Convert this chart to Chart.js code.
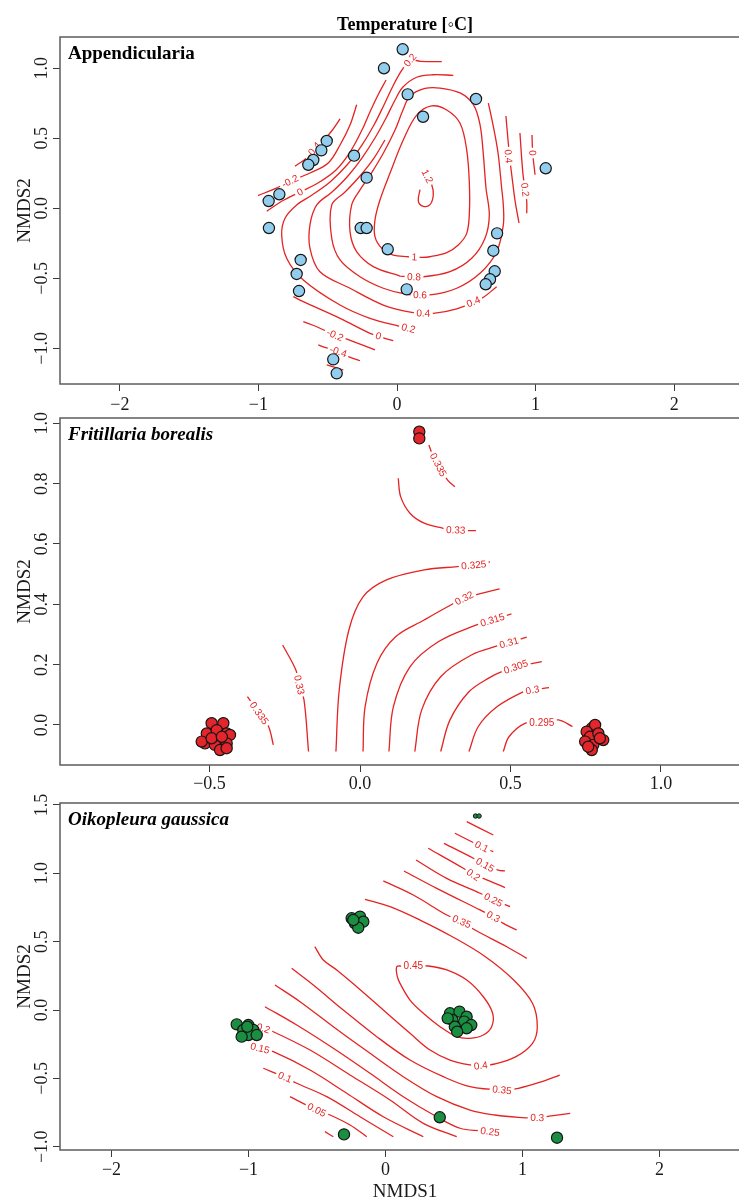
<!DOCTYPE html>
<html>
<head>
<meta charset="utf-8">
<script src="https://cdn.jsdelivr.net/npm/chart.js@4.4.1/dist/chart.umd.min.js"></script>
<style>
  html, body { margin: 0; padding: 0; background: #fff; overflow: hidden; width: 739px; height: 1202px; }
  canvas { position: absolute; left: 0; }
</style>
</head>
<body>
<canvas id="c1" width="760" height="418" style="top:0px;width:760px;height:418px"></canvas>
<canvas id="c2" width="760" height="400" style="top:400px;width:760px;height:400px"></canvas>
<canvas id="c3" width="760" height="412" style="top:790px;width:760px;height:412px"></canvas>
<script>
// ---------------- Appendicularia ----------------
const appX = [0.041,-0.094,0.077,0.570,0.188,-0.507,-0.546,-0.604,-0.640,-0.310,-0.219,1.073,-0.849,-0.926,-0.924,-0.262,-0.219,-0.067,0.722,0.695,-0.695,-0.724,-0.707,0.070,0.705,0.671,0.640,-0.460,-0.435];
const appY = [1.136,1.000,0.814,0.781,0.654,0.481,0.414,0.345,0.311,0.376,0.219,0.286,0.100,0.052,-0.141,-0.141,-0.141,-0.293,-0.179,-0.303,-0.369,-0.469,-0.591,-0.579,-0.450,-0.507,-0.543,-1.079,-1.179];
const appXTicks = [-2, -1, 0, 1, 2];
const appYTicks = [-1, -0.5, 0, 0.5, 1];
// contour: [level text, path, label spots]
const appContours = [
  ['1.2', [[0.205,0.26],[0.250,0.170],[0.262,0.097],[0.238,0.026],[0.190,0.014],[0.154,0.050],[0.166,0.134]], [[0.218,0.228]]],
  ['1', [[0.082,-0.346],[-0.027,-0.334],[-0.110,-0.286],[-0.159,-0.203],[-0.159,-0.084],[-0.123,0.059],[-0.051,0.250],[0.045,0.488],[0.142,0.666],[0.250,0.731],[0.359,0.702],[0.455,0.607],[0.503,0.416],[0.522,0.179],[0.522,-0.036],[0.503,-0.179],[0.442,-0.262],[0.359,-0.317],[0.238,-0.346],[0.178,-0.350],[0.082,-0.346]], [[0.125,-0.348]]],
  ['0.8', [[0.022,-0.484],[-0.171,-0.417],[-0.291,-0.310],[-0.339,-0.167],[-0.327,0.024],[-0.267,0.131],[-0.180,0.259],[-0.094,0.402],[-0.014,0.559],[0.043,0.702],[0.094,0.802],[0.202,0.856],[0.310,0.859],[0.455,0.824],[0.551,0.740],[0.599,0.597],[0.623,0.383],[0.642,0.145],[0.666,-0.048],[0.635,-0.214],[0.539,-0.357],[0.382,-0.453],[0.190,-0.489],[0.022,-0.484]], [[0.123,-0.491]]],
  ['0.6', [[-0.087,0.488],[-0.166,0.359],[-0.267,0.231],[-0.375,0.116],[-0.471,0.024],[-0.471,-0.214],[-0.411,-0.369],[-0.267,-0.489],[-0.099,-0.571],[0.070,-0.614],[0.238,-0.619],[0.431,-0.571],[0.599,-0.464],[0.719,-0.310],[0.767,-0.119],[0.767,0.024],[0.755,0.145],[0.729,0.395],[0.693,0.595],[0.659,0.752]], [[0.166,-0.619]]],
  ['0.4', [[0.406,0.950],[0.262,0.954],[0.142,0.936],[0.043,0.866],[-0.014,0.774],[-0.079,0.645],[-0.159,0.502],[-0.253,0.359],[-0.354,0.231],[-0.469,0.116],[-0.579,0.024],[-0.628,-0.119],[-0.628,-0.286],[-0.556,-0.453],[-0.339,-0.571],[-0.099,-0.691],[0.106,-0.743],[0.262,-0.750],[0.431,-0.719],[0.611,-0.643],[0.719,-0.560]], [[0.190,-0.750],[0.551,-0.668]]],
  ['0.4', [[0.786,0.659],[0.801,0.488],[0.815,0.345],[0.837,0.167],[0.851,0.059],[0.880,-0.105]], [[0.803,0.371]]],
  ['0.2', [[0.034,-0.846],[-0.195,-0.786],[-0.411,-0.691],[-0.676,-0.512],[-0.796,-0.357],[-0.832,-0.191],[-0.808,-0.071],[-0.724,0.024],[-0.613,0.095],[-0.483,0.188],[-0.361,0.309],[-0.253,0.452],[-0.166,0.595],[-0.094,0.738],[-0.029,0.874],[0.036,0.988],[0.094,1.058],[0.170,1.050],[0.323,1.048]], [[0.082,-0.857],[0.094,1.058]]],
  ['0.2', [[0.887,0.538],[0.907,0.264],[0.924,0.133],[0.936,0.050],[0.936,-0.036]], [[0.924,0.133]]],
  ['0', [[0.974,0.524],[0.979,0.395],[0.996,0.240]], [[0.979,0.395]]],
  ['0', [[-0.940,-0.021],[-0.832,0.050],[-0.700,0.116],[-0.570,0.181],[-0.440,0.274],[-0.339,0.402],[-0.253,0.559],[-0.195,0.688],[-0.137,0.809],[-0.079,0.916]], [[-0.700,0.116]]],
  ['-0.2', [[-1.003,0.091],[-0.880,0.140],[-0.772,0.193],[-0.628,0.252],[-0.496,0.324],[-0.411,0.452],[-0.339,0.595],[-0.291,0.740]], [[-0.772,0.193]]],
  ['-0.4', [[-0.736,0.300],[-0.652,0.359],[-0.604,0.416],[-0.541,0.474],[-0.471,0.552],[-0.411,0.638]], [[-0.604,0.416]]],
  ['0', [[-0.748,-0.631],[-0.676,-0.667],[-0.411,-0.786],[-0.195,-0.893],[-0.135,-0.912],[-0.087,-0.929],[-0.027,-0.946]], [[-0.135,-0.912]]],
  ['-0.2', [[-0.676,-0.810],[-0.579,-0.846],[-0.447,-0.906],[-0.375,-0.929],[-0.159,-1.012]], [[-0.447,-0.906]]],
  ['-0.4', [[-0.568,-0.976],[-0.532,-0.989],[-0.424,-1.024],[-0.351,-1.060],[-0.267,-1.089]], [[-0.424,-1.024]]],
  ['', [[-0.507,-1.119],[-0.387,-1.155]], []]
];

// ---------------- Fritillaria borealis ----------------
const friX = [-0.515,-0.493,-0.454,-0.509,-0.476,-0.443,-0.432,-0.482,-0.443,-0.465,-0.443,-0.526,-0.493,-0.459,
              0.770,0.781,0.753,0.764,0.792,0.808,0.748,0.775,0.770,0.758,0.797, 0.197,0.197];
const friY = [-0.061,0.006,0.006,-0.028,-0.017,-0.028,-0.033,-0.066,-0.061,-0.083,-0.077,-0.055,-0.044,-0.039,
              -0.011,0.000,-0.022,-0.039,-0.028,-0.050,-0.055,-0.066,-0.083,-0.072,-0.044, 0.972,0.950];
const friXTicks = [-0.5, 0, 0.5, 1];
const friYTicks = [0, 0.2, 0.4, 0.6, 0.8, 1];
const friContours = [
  ['0.335', [[0.229,0.928],[0.237,0.906],[0.260,0.862],[0.291,0.812],[0.315,0.790]], [[0.260,0.862]]],
  ['0.33', [[0.127,0.818],[0.135,0.757],[0.166,0.702],[0.213,0.669],[0.276,0.652],[0.312,0.646],[0.385,0.644]], [[0.318,0.646]]],
  ['0.335', [[-0.374,0.094],[-0.338,0.044],[-0.304,-0.005],[-0.288,-0.066]], [[-0.335,0.039]]],
  ['0.33', [[-0.257,0.265],[-0.213,0.182],[-0.202,0.133],[-0.186,0.083],[-0.171,-0.088]], [[-0.202,0.133]]],
  ['0.325', [[-0.080,-0.088],[-0.069,0.116],[-0.037,0.315],[0.010,0.425],[0.088,0.481],[0.213,0.514],[0.323,0.525],[0.378,0.530],[0.432,0.541]], [[0.378,0.530]]],
  ['0.32', [[0.010,-0.088],[0.017,0.061],[0.056,0.204],[0.119,0.293],[0.213,0.348],[0.291,0.392],[0.346,0.420],[0.464,0.451]], [[0.346,0.420]]],
  ['0.315', [[0.096,-0.088],[0.111,0.061],[0.166,0.193],[0.260,0.276],[0.385,0.331],[0.440,0.348],[0.503,0.368]], [[0.440,0.348]]],
  ['0.31', [[0.182,-0.088],[0.205,0.050],[0.268,0.160],[0.370,0.232],[0.456,0.262],[0.495,0.273],[0.554,0.291]], [[0.495,0.273]]],
  ['0.305', [[0.268,-0.088],[0.299,0.017],[0.362,0.110],[0.432,0.158],[0.471,0.177],[0.518,0.193],[0.604,0.210]], [[0.518,0.193]]],
  ['0.3', [[0.362,-0.088],[0.393,-0.005],[0.456,0.061],[0.542,0.110],[0.573,0.116],[0.628,0.124]], [[0.573,0.116]]],
  ['0.295', [[0.476,-0.088],[0.495,-0.039],[0.550,0.006],[0.604,0.006],[0.659,0.017],[0.706,-0.005]], [[0.604,0.006]]]
];

// ---------------- Oikopleura gaussica ----------------
const oikX = [-0.247,-0.186,-0.223,-0.162,-0.199,-0.235,
              -1.086,-1.001,-0.965,-1.038,-1.001,-0.940,-1.050,-1.009,
              0.471,0.540,0.592,0.488,0.574,0.626,0.506,0.592,0.523,0.454,
              0.396,-0.303,1.252];
const oikY = [0.671,0.683,0.634,0.646,0.602,0.658,
              -0.105,-0.110,-0.146,-0.146,-0.183,-0.183,-0.195,-0.122,
              -0.024,-0.012,-0.049,-0.073,-0.085,-0.110,-0.122,-0.134,-0.159,-0.061,
              -0.785,-0.910,-0.934];
const oikTinyX = [0.657, 0.683];
const oikTinyY = [1.419, 1.419];
const oikXTicks = [-2, -1, 0, 1, 2];
const oikYTicks = [-1, -0.5, 0, 0.5, 1, 1.5];
const oikContours = [
  ['', [[0.593,1.378],[0.787,1.280]], []],
  ['0.1', [[0.507,1.293],[0.629,1.231],[0.702,1.195],[0.787,1.158]], [[0.702,1.195]]],
  ['0.15', [[0.427,1.219],[0.641,1.110],[0.726,1.061],[0.823,1.024],[0.872,1.017]], [[0.726,1.061]]],
  ['0.2', [[0.312,1.183],[0.568,1.037],[0.641,0.988],[0.714,0.963],[0.872,0.895]], [[0.641,0.988]]],
  ['0.25', [[0.223,1.097],[0.447,0.963],[0.690,0.854],[0.787,0.805],[0.909,0.756]], [[0.787,0.805]]],
  ['0.3', [[0.135,1.017],[0.374,0.890],[0.690,0.732],[0.787,0.683],[0.860,0.634],[0.958,0.585]], [[0.787,0.683]]],
  ['0.35', [[-0.016,0.944],[0.203,0.841],[0.447,0.695],[0.556,0.646],[0.653,0.585],[0.885,0.463],[1.031,0.378]], [[0.556,0.646]]],
  ['0.4', [[-0.150,0.810],[0.033,0.756],[0.252,0.658],[0.488,0.536],[0.729,0.390],[0.936,0.219],[1.073,0.049],[1.108,-0.122],[1.073,-0.244],[0.953,-0.341],[0.798,-0.395],[0.695,-0.407],[0.617,-0.402],[0.471,-0.366],[0.325,-0.293],[0.179,-0.170],[-0.016,0.0],[-0.210,0.170],[-0.356,0.293],[-0.454,0.366],[-0.516,0.463]], [[0.695,-0.407]]],
  ['0.45', [[0.120,0.322],[0.082,0.317],[0.085,0.250],[0.106,0.195],[0.179,0.073],[0.276,-0.024],[0.398,-0.122],[0.520,-0.195],[0.617,-0.207],[0.714,-0.183],[0.775,-0.122],[0.782,-0.024],[0.714,0.097],[0.593,0.219],[0.447,0.293],[0.312,0.322],[0.203,0.322],[0.120,0.322]], [[0.203,0.322]]],
  ['0.35', [[-0.685,0.305],[-0.527,0.183],[-0.308,0.0],[-0.064,-0.195],[0.179,-0.366],[0.422,-0.488],[0.617,-0.561],[0.850,-0.585],[0.970,-0.573],[1.142,-0.524],[1.272,-0.476]], [[0.850,-0.585]]],
  ['0.3', [[-0.807,0.183],[-0.624,0.061],[-0.381,-0.122],[-0.113,-0.317],[0.130,-0.488],[0.374,-0.634],[0.617,-0.732],[0.799,-0.768],[0.970,-0.785],[1.107,-0.788],[1.210,-0.775],[1.348,-0.756]], [[1.107,-0.788]]],
  ['0.25', [[-0.880,0.024],[-0.648,-0.110],[-0.381,-0.280],[-0.113,-0.463],[0.130,-0.634],[0.374,-0.781],[0.544,-0.865],[0.700,-0.885]], [[0.763,-0.890]]],
  ['0.2', [[-0.892,-0.134],[-0.819,-0.159],[-0.551,-0.293],[-0.259,-0.475],[0.033,-0.658],[0.276,-0.829],[0.520,-0.927]], [[-0.892,-0.134]]],
  ['0.15', [[-0.916,-0.280],[-0.819,-0.305],[-0.551,-0.439],[-0.283,-0.609],[-0.016,-0.781],[0.276,-0.927]], [[-0.916,-0.280]]],
  ['0.1', [[-0.892,-0.426],[-0.734,-0.492],[-0.648,-0.536],[-0.429,-0.634],[-0.186,-0.781],[0.057,-0.927]], [[-0.734,-0.492]]],
  ['0.05', [[-0.697,-0.634],[-0.502,-0.732],[-0.405,-0.768],[-0.259,-0.841],[-0.137,-0.927]], [[-0.502,-0.732]]],
  ['', [[-0.442,-0.890],[-0.381,-0.927]], []]
];

const RED = '#e42322';
const SERIF = '"Liberation Serif", "Times New Roman", serif';

function fmt(v, dec) {
  const s = Math.abs(v).toFixed(dec);
  return (v < -1e-9 ? '\u2212' : '') + s;
}

// contour labels are written into a white gap of the line, before the points are drawn
const contourLabels = {
  id: 'contourLabels',
  beforeDatasetDraw(chart, args, opts) {
    if (args.index !== 0) return;
    const { ctx } = chart;
    const sx = chart.scales.x, sy = chart.scales.y;
    ctx.save();
    ctx.beginPath();
    ctx.rect(chart.chartArea.left, chart.chartArea.top, chart.chartArea.width, chart.chartArea.height);
    ctx.clip();
    ctx.font = '10px "Liberation Sans", Arial, sans-serif';
    ctx.textAlign = 'center';
    ctx.textBaseline = 'middle';
    opts.lines.forEach(([txt, path, spots]) => {
      spots.forEach(([mx, my]) => {
        const px = sx.getPixelForValue(mx), py = sy.getPixelForValue(my);
        let best = Infinity, ang = 0;
        for (let i = 0; i < path.length - 1; i++) {
          const ax = sx.getPixelForValue(path[i][0]), ay = sy.getPixelForValue(path[i][1]);
          const bx = sx.getPixelForValue(path[i + 1][0]), by = sy.getPixelForValue(path[i + 1][1]);
          const dx = bx - ax, dy = by - ay;
          const t = Math.max(0, Math.min(1, ((px - ax) * dx + (py - ay) * dy) / (dx * dx + dy * dy || 1)));
          const d = Math.hypot(ax + t * dx - px, ay + t * dy - py);
          if (d < best) { best = d; ang = Math.atan2(dy, dx); }
        }
        if (ang > Math.PI / 2) ang -= Math.PI;
        if (ang < -Math.PI / 2) ang += Math.PI;
        const w = ctx.measureText(txt).width;
        ctx.save();
        ctx.translate(px, py);
        ctx.rotate(ang);
        ctx.fillStyle = '#fff';
        ctx.fillRect(-w / 2 - 2.5, -4.5, w + 5, 9);
        ctx.fillStyle = RED;
        ctx.fillText(txt, 0, 0.5);
        ctx.restore();
      });
    });
    ctx.restore();
  }
};

const panelFrame = {
  id: 'panelFrame',
  afterDraw(chart, args, o) {
    const { ctx, chartArea: a } = chart;
    ctx.save();
    ctx.strokeStyle = '#5c5c5c';
    ctx.lineWidth = 1.5;
    ctx.strokeRect(a.left, a.top, a.right - a.left, a.bottom - a.top);
    ctx.fillStyle = '#000';
    ctx.textAlign = 'left';
    ctx.textBaseline = 'alphabetic';
    ctx.font = o.font;
    ctx.fillText(o.name, a.left + 8, a.top + 22);
    if (o.title) {
      ctx.font = 'bold 18px ' + SERIF;
      ctx.textAlign = 'center';
      ctx.fillText(o.title, (a.left + a.right) / 2, a.top - 7);
    }
    ctx.restore();
  }
};

function makePanel(id, o) {
  const datasets = [{
    data: o.xs.map((x, i) => ({ x, y: o.ys[i] })),
    pointRadius: 5.6,
    pointBackgroundColor: o.fill,
    pointBorderColor: '#151515',
    pointBorderWidth: 1.2,
    showLine: false
  }];
  if (o.tinyX) {
    datasets.push({
      data: o.tinyX.map((x, i) => ({ x, y: o.tinyY[i] })),
      pointRadius: 2.2,
      pointBackgroundColor: o.fill,
      pointBorderColor: '#151515',
      pointBorderWidth: 1,
      showLine: false
    });
  }
  o.contours.forEach(([lvl, path]) => {
    datasets.push({
      data: path.map(([x, y]) => ({ x, y })),
      showLine: true,
      borderColor: RED,
      borderWidth: 1.3,
      pointRadius: 0,
      tension: 0.35,
      fill: false
    });
  });

  const tickFont = { family: SERIF, size: 18 };
  return new Chart(document.getElementById(id), {
    type: 'scatter',
    data: { datasets },
    options: {
      responsive: false,
      animation: false,
      devicePixelRatio: 1,
      events: [],
      layout: { autoPadding: false, padding: { top: o.padTop, right: 10, left: 0, bottom: 0 } },
      plugins: {
        legend: { display: false },
        tooltip: { enabled: false },
        contourLabels: { lines: o.contours },
        panelFrame: { name: o.name, font: o.nameFont, title: o.title }
      },
      scales: {
        x: {
          type: 'linear', min: o.xMin, max: o.xMax,
          afterBuildTicks: s => { s.ticks = o.xTicks.map(v => ({ value: v })); },
          afterFit: s => { s.height = o.xh; },
          grid: { drawOnChartArea: false, drawTicks: true, tickLength: 7, color: '#3a3a3a', lineWidth: 1 },
          border: { display: false },
          ticks: { font: tickFont, color: '#1a1a1a', padding: o.xPad, maxRotation: 0, minRotation: 0, autoSkip: false,
                   callback: v => fmt(v, o.xDec) },
          title: o.xTitle ? { display: true, text: o.xTitle, color: '#1a1a1a',
                              font: { family: SERIF, size: 19, lineHeight: 1 }, padding: { top: 0, bottom: 0.5 } }
                          : { display: false }
        },
        y: {
          type: 'linear', min: o.yMin, max: o.yMax,
          afterBuildTicks: s => { s.ticks = o.yTicks.map(v => ({ value: v })); },
          afterFit: s => { s.width = 60; },
          grid: { drawOnChartArea: false, drawTicks: true, tickLength: 7, color: '#3a3a3a', lineWidth: 1 },
          border: { display: false },
          ticks: { font: tickFont, color: '#1a1a1a', padding: o.yPad, minRotation: 90, maxRotation: 90,
                   crossAlign: 'center', autoSkip: false, callback: v => fmt(v, 1) },
          title: { display: true, text: 'NMDS2', color: '#1a1a1a',
                   font: { family: SERIF, size: 19 }, padding: { top: 14, bottom: 0 } }
        }
      }
    },
    plugins: [contourLabels, panelFrame]
  });
}

makePanel('c1', {
  xs: appX, ys: appY, fill: '#93cdee', contours: appContours,
  xTicks: appXTicks, yTicks: appYTicks, xDec: 0,
  xMin: -2.4315, xMax: 2.5469, yMin: -1.255, yMax: 1.2236,
  padTop: 37, xh: 34, xPad: 3, yPad: -5.8,
  name: 'Appendicularia', nameFont: 'bold 19px ' + SERIF,
  title: 'Temperature [\u25E6C]'
});

makePanel('c2', {
  xs: friX, ys: friY, fill: '#e3262b', contours: friContours,
  xTicks: friXTicks, yTicks: friYTicks, xDec: 1,
  xMin: -0.9967, xMax: 1.2957, yMin: -0.1326, yMax: 1.0176,
  padTop: 18, xh: 35, xPad: 1, yPad: -0.75,
  name: 'Fritillaria borealis', nameFont: 'italic bold 19px ' + SERIF
});

makePanel('c3', {
  xs: oikX, ys: oikY, tinyX: oikTinyX, tinyY: oikTinyY, fill: '#1a8f42', contours: oikContours,
  xTicks: oikXTicks, yTicks: oikYTicks, xDec: 0,
  xMin: -2.376, xMax: 2.6606, yMin: -1.0241, yMax: 1.5143,
  padTop: 13, xh: 52, xPad: 2.2, yPad: -5.8,
  name: 'Oikopleura gaussica', nameFont: 'italic bold 19px ' + SERIF,
  xTitle: 'NMDS1'
});
</script>
</body>
</html>
